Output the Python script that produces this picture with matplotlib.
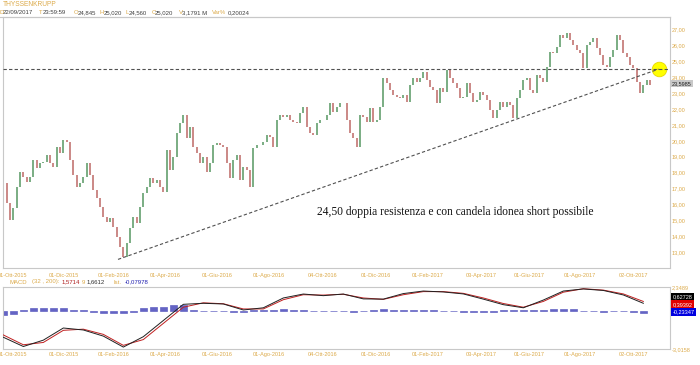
import matplotlib
matplotlib.use("Agg")
import matplotlib.pyplot as plt
import numpy as np

plt.rcParams['font.family'] = ['Liberation Sans', 'DejaVu Sans']

# ---------------- data ----------------
ticker = "THYSSENKRUPP"
closes = [
    17.33, 16.08, 15.03, 15.76, 17.12, 18.06, 17.75, 17.43, 17.75, 18.80,
    18.27, 18.59, 18.69, 19.11, 18.59, 18.38, 19.63, 19.21, 20.05, 19.95,
    18.80, 17.85, 17.12, 17.33, 17.75, 18.59, 17.85, 16.91, 16.39, 15.87,
    15.24, 14.92, 15.13, 14.61, 13.98, 13.35, 12.73, 13.56, 14.51, 15.24,
    14.82, 15.87, 16.70, 17.12, 17.64, 17.33, 17.54, 17.12, 16.81, 19.42,
    18.17, 19.00, 20.47, 21.10, 21.62, 20.16, 20.89, 19.63, 19.21, 18.59,
    19.00, 18.06, 18.59, 19.74, 19.84, 19.74, 19.63,
    18.59, 17.64, 18.80, 19.11, 17.54, 18.38, 18.17, 17.12, 19.53, 19.74,
    19.74, 19.95, 20.37, 20.26, 19.63, 21.31, 21.62, 21.52, 21.62, 21.31,
    21.19, 21.10, 21.73, 22.14, 20.89, 20.47, 20.37, 21.10, 21.31, 21.31,
    21.62, 22.35, 21.83, 22.14, 22.35, 22.35, 21.31, 20.47, 20.16, 19.63,
    21.62, 21.52, 21.19, 22.04, 21.19, 21.31, 22.14, 23.92, 23.61, 23.19,
    22.88, 22.77, 22.67, 22.88, 22.46, 23.50, 23.92, 23.71, 23.92, 24.34,
    23.82, 23.40, 23.19, 22.35, 23.29,
    23.09, 24.45, 23.92, 23.61, 23.29, 22.67, 22.77, 23.61, 22.98, 22.46,
    22.56, 23.09, 22.88, 22.56, 21.93, 21.41, 21.93, 22.46, 22.14, 22.46,
    22.25, 21.41, 22.67, 23.19, 23.82, 23.92, 23.19, 22.98, 24.13, 23.92,
    23.71, 24.65, 25.60, 25.49, 25.91, 26.64, 26.43, 26.75, 26.33, 26.01,
    25.70, 25.49, 24.55, 26.01, 26.22, 26.43, 25.81, 25.39, 24.76, 24.65,
    25.28, 25.70, 26.64, 26.33, 25.49, 25.28, 24.76, 24.55, 23.71, 22.98,
    23.50, 23.82, 23.50,
]
date_tick_pos = [2.6, 18.2, 33.2, 48.5, 64.1, 79.7, 95.9, 111.8, 127.4,
                 143.3, 157.7, 173.0, 188.9]
date_tick_labels = ["01-Ott-2015", "01-Dic-2015", "01-Feb-2016", "01-Apr-2016",
                    "01-Giu-2016", "01-Ago-2016", "04-Ott-2016", "01-Dic-2016",
                    "01-Feb-2017", "03-Apr-2017", "01-Giu-2017", "01-Ago-2017",
                    "02-Ott-2017"]
price_ticks = [13, 14, 15, 16, 17, 18, 19, 20, 21, 22, 23, 24, 25, 26, 27]
resistance = 24.50
trend_x = [34.4, 196.6]
trend_y = [12.56, 24.50]
last_price = 23.5985
annotation = "24,50 doppia resistenza e con candela idonea short possibile"

macd_step = 6
macd_line = [-2.00, -2.80, -2.25, -1.20, -1.37, -1.90, -2.85, -1.95, -0.55, 0.85,
             0.94, 0.88, 0.36, 0.55, 1.40, 1.74, 1.60, 1.74, 1.32, 1.30,
             1.78, 2.00, 1.92, 1.75, 1.30, 0.82, 0.55, 1.22, 2.00, 2.18,
             2.05, 1.66, 0.94]
signal_line = [-1.80, -2.65, -2.45, -1.40, -1.30, -1.75, -2.70, -2.20, -0.80, 0.60,
               0.98, 0.90, 0.45, 0.45, 1.25, 1.68, 1.65, 1.72, 1.40, 1.28,
               1.68, 1.95, 1.95, 1.80, 1.40, 0.92, 0.60, 1.10, 1.90, 2.20,
               2.08, 1.75, 1.10]
hist_step = 3
hist_vals = [-0.35, -0.30, 0.08, 0.20, 0.24, 0.26, 0.26, 0.05, 0.03, -0.10,
             -0.20, -0.24, -0.24, -0.12, 0.25, 0.32, 0.35, 0.45, 0.50, 0.10,
             -0.03, -0.03, -0.05, -0.10, -0.08, 0.05, 0.10, 0.10, 0.12, 0.08,
             0.03, -0.03, -0.05, -0.03, -0.05, -0.12, -0.05, 0.05, 0.12, 0.08,
             0.03, 0.05, 0.05, 0.02, -0.03, -0.05, -0.10, -0.12, -0.12, -0.10,
             0.03, 0.05, 0.05, 0.08, 0.10, 0.15, 0.18, 0.12, -0.03, -0.05,
             -0.08, -0.05, -0.05, -0.12, -0.18]
macd_min, macd_max = -3.0158, 2.3489
macd_last, signal_last, hist_last = 0.62728, 0.39392, -0.23347

header_labels = ["D", "T", "O", "H", "L", "C", "V", "Var%"]
header_values = ["22/09/2017", "23:59:59", "24,845", "25,020", "24,560",
                 "25,020", "3,1791 M", "0,20024"]

# ---------------- style ----------------
W, H = 700, 365
gold = '#dcaa4a'
grid_gray = '#c8c8c8'
green = '#64a06e'
red = '#c27472'

def fx(px):
    return px / W

def fy(py):
    return 1 - py / H

def fmt(v, d=2):
    return f"{v:.{d}f}".replace('.', ',')

fig = plt.figure(figsize=(7, 3.65), dpi=100)
fig.patch.set_facecolor('white')

# ---- main price panel ----
ax = fig.add_axes([fx(3), fy(268), fx(667), (268 - 16.7) / H])
x = np.arange(len(closes))
c = np.array(closes)
o = np.concatenate([[closes[0]], c[:-1]])
cols = [green if cc >= oo else red for cc, oo in zip(c, o)]
ax.vlines(x, np.minimum(o, c), np.maximum(o, c), colors=cols, lw=1.2, zorder=2)

ax.set_xlim(-0.1, 200)
ax.set_ylim(12.02, 27.79)
ax.axhline(resistance, color='#505050', lw=0.8, ls=(0, (3, 2)), zorder=4)
ax.scatter([trend_x[1]], [trend_y[1]], s=110, color='#ffff00',
           edgecolor='#e8d800', lw=0.6, zorder=3)
ax.plot(trend_x, trend_y, color='#505050', lw=0.8, ls=(0, (3, 2)), zorder=4)

ax.text(94, 15.55, annotation, family='Liberation Serif', fontsize=8.3,
        color='#111111', ha='left', va='center')

ax.yaxis.tick_right()
ax.set_yticks(price_ticks, [fmt(v) for v in price_ticks])
ax.tick_params(axis='y', length=0, pad=1.5, labelsize=4, labelcolor=gold)
ax.set_xticks(date_tick_pos, date_tick_labels)
ax.tick_params(axis='x', length=0, pad=3.4, labelsize=4, labelcolor=gold)
for s in ax.spines.values():
    s.set_color(grid_gray)
    s.set_linewidth(0.8)

ax.text(1.003, last_price, fmt(last_price, 4), transform=ax.get_yaxis_transform(),
        fontsize=4, color='#202020', ha='left', va='center',
        bbox=dict(boxstyle='square,pad=0.25', fc='#c8c8c8', ec='none'), zorder=6)

# ---- MACD panel ----
ax2 = fig.add_axes([fx(3), fy(349), fx(667), 62 / H])
hist_base = 0.30
hx = np.arange(len(hist_vals)) * hist_step
ax2.bar(hx, hist_vals, bottom=hist_base, width=2.0, color='#6464c4',
        edgecolor='#6464c4', lw=0.5, zorder=2)
mx = np.arange(len(macd_line)) * macd_step
ax2.plot(mx, signal_line, color='#c02020', lw=0.7, zorder=3)
ax2.plot(mx, macd_line, color='#202020', lw=0.7, zorder=4)
ax2.set_xlim(-0.1, 200)
ax2.set_ylim(macd_min, macd_max)
ax2.yaxis.tick_right()
ax2.set_yticks([macd_min, macd_max], [fmt(macd_min, 4), fmt(macd_max, 4)])
ax2.tick_params(axis='y', length=0, pad=1.5, labelsize=4, labelcolor=gold)
ax2.set_xticks(date_tick_pos, date_tick_labels)
ax2.tick_params(axis='x', length=0, pad=2.3, labelsize=4, labelcolor=gold)
for s in ax2.spines.values():
    s.set_color(grid_gray)
    s.set_linewidth(0.8)

for val, yy, bg in [(macd_last, 0.844, '#000000'), (signal_last, 0.721, '#e00000'),
                    (hist_last, 0.602, '#0000e0')]:
    ax2.text(1.004, yy, fmt(val, 5), transform=ax2.transAxes, fontsize=4,
             color='white', ha='left', va='center',
             bbox=dict(boxstyle='square,pad=0.25', fc=bg, ec='none'))

# ---- header texts ----
fig.text(fx(3), fy(4.5), ticker, fontsize=4.8, color=gold, va='center')
lab_x = [0, 39, 74, 100, 126, 152, 179, 212]
val_x = [3, 43, 78, 104, 129, 155, 182, 228]
for lx, vx, lab, val in zip(lab_x, val_x, header_labels, header_values):
    fig.text(fx(lx), fy(13), lab, fontsize=4.3, color=gold, va='center')
    fig.text(fx(vx), fy(13), val, fontsize=4.3, color='#404040', va='center')
fig.add_artist(plt.Line2D([0, fx(670)], [fy(16.7), fy(16.7)], color=grid_gray, lw=0.8))

macd_header = [(10, "MACD", gold), (32, "(32 , 200):", gold), (62, "1,5714", '#b02020'),
               (82, "9", gold), (87, "1,6612", '#303030'), (113, "Ist.", gold),
               (125, "-0,07978", '#2020b0')]
for hx_, txt, col in macd_header:
    fig.text(fx(hx_), fy(282), txt, fontsize=4.3, color=col, va='center')

fig.savefig("out.png", dpi=100)
